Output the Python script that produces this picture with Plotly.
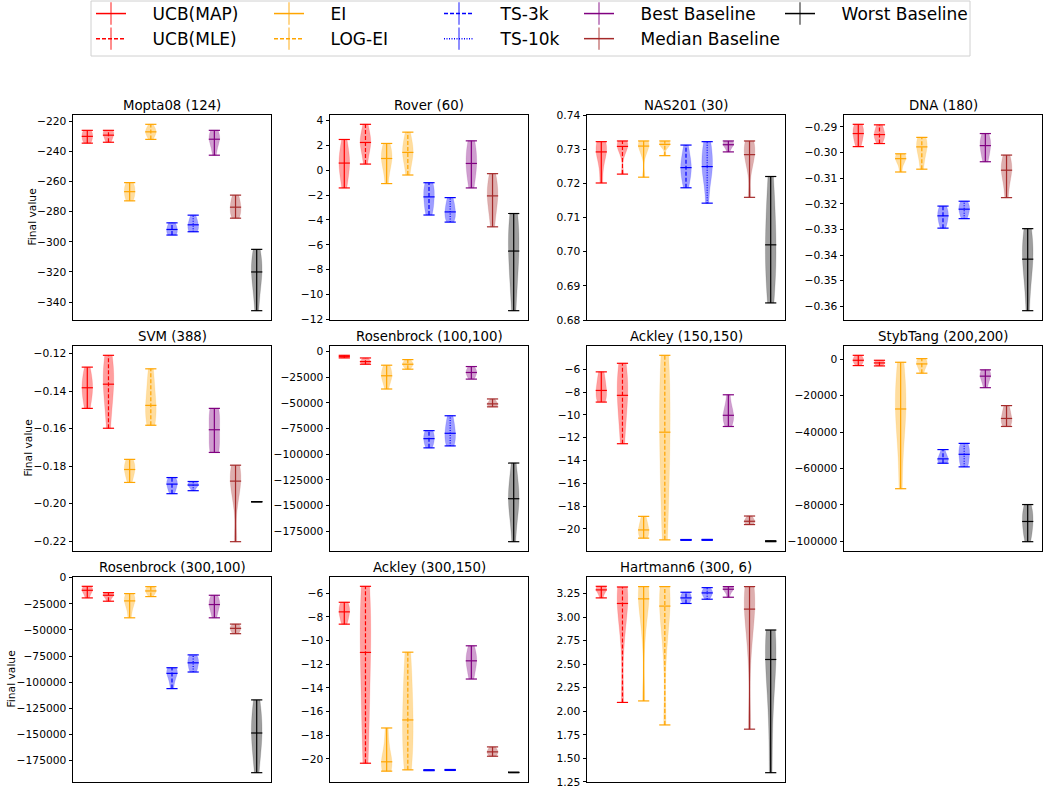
import numpy as np
import plotly.graph_objects as go

W, H = 1053, 792

METHODS = ["UCB(MAP)", "UCB(MLE)", "EI", "LOG-EI", "TS-3k", "TS-10k",
           "Best Baseline", "Median Baseline", "Worst Baseline"]
COLORS = ["#ff0000", "#ff0000", "#ffa500", "#ffa500", "#0000ff", "#0000ff",
          "#800080", "#a52a2a", "#000000"]
DASHES = ["solid", "4px,2px", "solid", "4px,2px", "4px,2px", "1px,1.5px",
          "solid", "solid", "solid"]

TITLES = ["Mopta08 (124)", "Rover (60)", "NAS201 (30)", "DNA (180)",
          "SVM (388)", "Rosenbrock (100,100)", "Ackley (150,150)", "StybTang (200,200)",
          "Rosenbrock (300,100)", "Ackley (300,150)", "Hartmann6 (300, 6)"]
Y_LABEL = "Final value"

MOPTA08 = [
    [-234.5, -233.0, -231.5, -230.0, -228.5, -227.0, -226.0],
    [-233.9, -232.0, -230.0, -229.2, -227.5, -226.5, -226.0],
    [-272.8, -271.0, -268.5, -266.7, -264.5, -262.5, -260.7],
    [-232.0, -229.5, -228.0, -227.0, -226.0, -224.5, -222.0],
    [-295.5, -294.5, -293.5, -291.8, -290.5, -289.0, -287.4],
    [-293.3, -292.5, -291.0, -288.7, -287.5, -285.0, -282.3],
    [-242.5, -237.0, -233.5, -231.9, -230.0, -228.0, -226.0],
    [-284.3, -282.0, -280.0, -277.0, -275.0, -272.0, -269.0],
    [-345.7, -333.0, -325.0, -320.0, -316.0, -311.0, -305.0],
]
ROVER = [
    [-1.42, -0.5, 0.2, 0.58, 1.0, 1.6, 2.48],
    [0.5, 1.4, 2.0, 2.24, 2.5, 3.0, 3.7],
    [-1.07, 0.1, 0.6, 0.95, 1.3, 1.7, 2.16],
    [-0.38, 0.6, 1.2, 1.44, 1.8, 2.3, 3.07],
    [-3.6, -3.1, -2.6, -2.14, -1.7, -1.3, -1.0],
    [-4.17, -3.9, -3.6, -3.35, -3.0, -2.6, -2.2],
    [-1.42, -0.5, 0.2, 0.55, 1.2, 1.8, 2.37],
    [-4.55, -3.3, -2.5, -2.06, -1.6, -1.0, -0.27],
    [-11.3, -9.0, -7.5, -6.5, -5.3, -4.3, -3.48],
]
NAS201 = [
    [0.7201, 0.7255, 0.7285, 0.7292, 0.7305, 0.7318, 0.7322],
    [0.7227, 0.7285, 0.7300, 0.7308, 0.7315, 0.7320, 0.7324],
    [0.7218, 0.7285, 0.7300, 0.7309, 0.7316, 0.7321, 0.7324],
    [0.7281, 0.7305, 0.7310, 0.7314, 0.7318, 0.7322, 0.7324],
    [0.7187, 0.7215, 0.7235, 0.7246, 0.7260, 0.7280, 0.7312],
    [0.7142, 0.7215, 0.7238, 0.7249, 0.7275, 0.7305, 0.7322],
    [0.7292, 0.7305, 0.7310, 0.7313, 0.7318, 0.7322, 0.7324],
    [0.7159, 0.7250, 0.7275, 0.7284, 0.7305, 0.7318, 0.7324],
    [0.6850, 0.6920, 0.6970, 0.7020, 0.7070, 0.7140, 0.7220],
]
DNA = [
    [-0.2977, -0.2955, -0.2940, -0.2926, -0.2912, -0.2900, -0.2890],
    [-0.2965, -0.2948, -0.2938, -0.2930, -0.2922, -0.2905, -0.2892],
    [-0.3076, -0.3045, -0.3032, -0.3024, -0.3018, -0.3010, -0.3005],
    [-0.3065, -0.3020, -0.2995, -0.2978, -0.2965, -0.2950, -0.2941],
    [-0.3295, -0.3275, -0.3260, -0.3247, -0.3235, -0.3222, -0.3209],
    [-0.3258, -0.3245, -0.3230, -0.3221, -0.3212, -0.3200, -0.3190],
    [-0.3036, -0.3010, -0.2990, -0.2973, -0.2958, -0.2945, -0.2926],
    [-0.3176, -0.3120, -0.3085, -0.3069, -0.3055, -0.3035, -0.3010],
    [-0.3617, -0.3500, -0.3440, -0.3416, -0.3370, -0.3330, -0.3297],
]
SVM = [
    [-0.1492, -0.1450, -0.1405, -0.1382, -0.1355, -0.1320, -0.1272],
    [-0.1598, -0.1480, -0.1400, -0.1363, -0.1310, -0.1250, -0.1209],
    [-0.1887, -0.1855, -0.1830, -0.1818, -0.1800, -0.1780, -0.1764],
    [-0.1582, -0.1550, -0.1510, -0.1476, -0.1420, -0.1350, -0.1281],
    [-0.1947, -0.1925, -0.1910, -0.1896, -0.1885, -0.1872, -0.1861],
    [-0.1931, -0.1915, -0.1905, -0.1901, -0.1896, -0.1890, -0.1882],
    [-0.1727, -0.1710, -0.1670, -0.1606, -0.1550, -0.1510, -0.1492],
    [-0.2203, -0.1980, -0.1920, -0.1880, -0.1850, -0.1820, -0.1795],
    [-0.1990, -0.1990, -0.1990, -0.1990, -0.1990, -0.1990, -0.1990],
]
ROSENBROCK_100 = [
    [-6100, -5500, -5100, -4835, -4500, -4000, -3550],
    [-12250, -11200, -10300, -9670, -8800, -7500, -6124],
    [-36400, -29000, -25500, -23500, -20500, -17000, -13200],
    [-17080, -14500, -13200, -12250, -11200, -9800, -7735],
    [-93800, -90500, -87500, -84800, -82000, -79000, -77000],
    [-91900, -88500, -84000, -79600, -75000, -69000, -62500],
    [-26750, -24000, -21800, -20300, -18700, -16800, -14500],
    [-53800, -52700, -51700, -50900, -49800, -48200, -46100],
    [-185300, -162000, -150000, -143400, -137000, -126000, -108600],
]
ACKLEY_150 = [
    [-8.88, -8.6, -8.2, -7.86, -7.4, -6.8, -6.23],
    [-12.53, -10.5, -9.0, -8.29, -7.3, -6.3, -5.48],
    [-20.81, -20.6, -20.3, -20.09, -19.8, -19.4, -18.9],
    [-20.96, -17.0, -14.0, -11.52, -9.0, -6.5, -4.78],
    [-21.0, -20.98, -20.97, -20.96, -20.95, -20.94, -20.93],
    [-21.0, -20.98, -20.97, -20.96, -20.95, -20.94, -20.92],
    [-11.02, -10.6, -10.3, -10.04, -9.7, -9.2, -8.24],
    [-19.62, -19.5, -19.4, -19.33, -19.2, -19.05, -18.87],
    [-21.12, -21.1, -21.09, -21.08, -21.07, -21.06, -21.04],
]
STYBTANG = [
    [-3450, -2200, -1200, -545, 200, 1200, 2180],
    [-3640, -3000, -2400, -2000, -1600, -1100, -545],
    [-71100, -45000, -33000, -27300, -20000, -12000, -1640],
    [-7640, -5000, -3500, -2545, -1500, -500, 360],
    [-57100, -56300, -55500, -54700, -53500, -52000, -49600],
    [-59100, -57500, -54500, -52200, -50000, -48000, -46200],
    [-15600, -12500, -10500, -9270, -8000, -6800, -5800],
    [-36900, -35300, -34000, -32500, -30500, -28000, -25450],
    [-100200, -96000, -92000, -89100, -86000, -83000, -79800],
]
ROSENBROCK_300 = [
    [-19340, -16000, -13500, -12040, -11000, -9500, -8240],
    [-22500, -20000, -17800, -16800, -16000, -15000, -14270],
    [-38400, -30000, -24500, -22200, -20000, -17500, -15200],
    [-18070, -15500, -13800, -12680, -11500, -10000, -8560],
    [-106200, -99000, -94000, -91600, -89500, -88000, -86200],
    [-90300, -88000, -84000, -81500, -79000, -76500, -73900],
    [-38400, -33000, -28000, -25700, -23500, -20500, -16800],
    [-53600, -52000, -50000, -48500, -47500, -46200, -44400],
    [-186700, -168000, -155000, -148700, -140000, -128000, -117000],
]
ACKLEY_300 = [
    [-8.61, -8.2, -7.8, -7.57, -7.3, -7.0, -6.76],
    [-20.37, -17.0, -13.5, -11.0, -8.5, -6.8, -5.41],
    [-21.04, -20.8, -20.5, -20.25, -19.8, -18.8, -17.39],
    [-20.93, -19.5, -18.0, -16.71, -15.0, -13.0, -10.98],
    [-21.0, -20.98, -20.97, -20.96, -20.95, -20.94, -20.92],
    [-20.98, -20.96, -20.95, -20.94, -20.93, -20.92, -20.90],
    [-13.25, -12.6, -12.0, -11.71, -11.4, -11.0, -10.44],
    [-19.78, -19.65, -19.5, -19.41, -19.3, -19.15, -18.99],
    [-21.17, -21.16, -21.155, -21.15, -21.145, -21.14, -21.13],
]
HARTMANN6 = [
    [3.204, 3.250, 3.275, 3.289, 3.305, 3.320, 3.327],
    [2.094, 2.800, 3.050, 3.145, 3.250, 3.310, 3.320],
    [2.110, 2.850, 3.100, 3.194, 3.280, 3.310, 3.324],
    [1.855, 2.700, 3.000, 3.117, 3.220, 3.300, 3.324],
    [3.145, 3.165, 3.190, 3.204, 3.225, 3.245, 3.264],
    [3.190, 3.220, 3.245, 3.257, 3.270, 3.290, 3.313],
    [3.211, 3.260, 3.285, 3.296, 3.310, 3.320, 3.324],
    [1.810, 2.700, 3.000, 3.085, 3.200, 3.290, 3.324],
    [1.348, 2.000, 2.400, 2.550, 2.700, 2.800, 2.863],
]

TICKS_MOPTA08 = [-340, -320, -300, -280, -260, -240, -220]
TICKS_ROVER = [-12, -10, -8, -6, -4, -2, 0, 2, 4]
TICKS_NAS201 = [0.68, 0.69, 0.70, 0.71, 0.72, 0.73, 0.74]
TICKS_DNA = [-0.36, -0.35, -0.34, -0.33, -0.32, -0.31, -0.30, -0.29]
TICKS_SVM = [-0.22, -0.20, -0.18, -0.16, -0.14, -0.12]
TICKS_ROSEN = [-175000, -150000, -125000, -100000, -75000, -50000, -25000, 0]
TICKS_ACKLEY = [-20, -18, -16, -14, -12, -10, -8, -6]
TICKS_STYB = [-100000, -80000, -60000, -40000, -20000, 0]
TICKS_HART = [1.25, 1.50, 1.75, 2.00, 2.25, 2.50, 2.75, 3.00, 3.25]

PANELS = [
    (MOPTA08, TICKS_MOPTA08, "d", None),
    (ROVER, TICKS_ROVER, "d", None),
    (NAS201, TICKS_NAS201, ".2f", [0.68, 0.74]),
    (DNA, TICKS_DNA, ".2f", None),
    (SVM, TICKS_SVM, ".2f", None),
    (ROSENBROCK_100, TICKS_ROSEN, "d", None),
    (ACKLEY_150, TICKS_ACKLEY, "d", None),
    (STYBTANG, TICKS_STYB, "d", None),
    (ROSENBROCK_300, TICKS_ROSEN, "d", None),
    (ACKLEY_300, TICKS_ACKLEY, "d", None),
    (HARTMANN6, TICKS_HART, ".2f", None),
]

LEGEND_COLUMNS = [[0, 1], [2, 3], [4, 5], [6, 7], [8]]
LEGEND_X_PX = [91, 269, 439, 579, 780]

COL_LEFT = [73, 330, 587, 844]
PANEL_W = 198
ROW_TOP = [115, 346, 577]
PANEL_H = 205
YLABEL_X_PX = [32, 28, 11]
FONT = "DejaVu Sans"
GAP = "\u00a0" * 4


def rgba(hex_color, a):
    h = hex_color.lstrip("#")
    r, g, b = int(h[0:2], 16), int(h[2:4], 16), int(h[4:6], 16)
    return f"rgba({r},{g},{b},{a})"


fig = go.Figure()
layout = dict(
    width=W, height=H, margin=dict(l=0, r=0, t=0, b=0, autoexpand=False),
    paper_bgcolor="white", plot_bgcolor="white",
    font=dict(family=FONT, color="black", size=11),
    violinmode="overlay", showlegend=True,
)
annotations = []

for k, (data, ticks, fmt, ylim) in enumerate(PANELS):
    r, c = divmod(k, 4)
    n = k + 1
    xn = "x" if n == 1 else f"x{n}"
    yn = "y" if n == 1 else f"y{n}"
    left = COL_LEFT[c]
    top = ROW_TOP[r]
    if ylim is None:
        allv = np.concatenate([np.asarray(v, float) for v in data])
        lo, hi = allv.min(), allv.max()
        m = 0.05 * (hi - lo)
        ylim = [lo - m, hi + m]
    layout[f"xaxis{n}"] = dict(
        domain=[left / W, (left + PANEL_W) / W], range=[0.325, 9.675],
        anchor=yn, showticklabels=False, ticks="", showgrid=False, zeroline=False,
        showline=True, mirror=True, linecolor="black", linewidth=1,
    )
    layout[f"yaxis{n}"] = dict(
        domain=[1 - (top + PANEL_H) / H, 1 - top / H], range=ylim, anchor=xn,
        tickvals=ticks, tickformat=fmt, ticks="outside", ticklen=3.5, tickwidth=0.8,
        tickcolor="black", tickfont=dict(family=FONT, size=10.7, color="black"),
        showgrid=False, zeroline=False, showline=True, mirror=True,
        linecolor="black", linewidth=1, exponentformat="none",
    )
    if c == 0:
        annotations.append(dict(
            text=Y_LABEL, x=YLABEL_X_PX[r] / W, y=1 - (top + PANEL_H / 2) / H,
            xref="paper", yref="paper", xanchor="center", yanchor="middle",
            textangle=-90, showarrow=False,
            font=dict(family=FONT, size=10.7, color="black"),
        ))
    annotations.append(dict(
        text=TITLES[k], x=(left + PANEL_W / 2) / W, y=1 - top / H,
        xref="paper", yref="paper", xanchor="center", yanchor="bottom",
        showarrow=False, yshift=0, font=dict(family=FONT, size=13.3, color="black"),
    ))

    for j, vals in enumerate(data):
        vals = np.asarray(vals, float)
        pos = j + 1
        col = COLORS[j]
        if vals.max() > vals.min():
            fig.add_trace(go.Violin(
                x=[pos] * len(vals), y=vals, xaxis=xn, yaxis=yn,
                width=0.5, scalemode="width", spanmode="hard", points=False,
                fillcolor=rgba(col, 0.38), line=dict(width=0.5, color=rgba(col, 0.25)),
                box_visible=False, meanline_visible=False, showlegend=False,
                hoverinfo="skip",
            ))
        fig.add_trace(go.Scatter(
            x=[pos, pos, pos], y=[vals.min(), float(np.median(vals)), vals.max()],
            xaxis=xn, yaxis=yn, mode="lines+markers",
            line=dict(color=col, width=1.2, dash=DASHES[j]),
            marker=dict(symbol="line-ew", size=8, color=col,
                        line=dict(width=1.2, color=col)),
            showlegend=False, hoverinfo="skip",
        ))

# legends: five column groups
for g, members in enumerate(LEGEND_COLUMNS):
    lname = "legend" if g == 0 else f"legend{g + 1}"
    for j in members:
        fig.add_trace(go.Scatter(
            x=[None], y=[None], mode="lines+markers", name=GAP + METHODS[j],
            line=dict(color=COLORS[j], width=1.5, dash=DASHES[j]),
            marker=dict(symbol="line-ns", size=16, color=COLORS[j],
                        line=dict(width=1.5, color=rgba(COLORS[j], 0.6))),
            legend=lname, showlegend=True,
        ))
    layout[lname] = dict(
        x=LEGEND_X_PX[g] / W, y=1 + 4 / H, xanchor="left", yanchor="top",
        orientation="v", bgcolor="rgba(0,0,0,0)", borderwidth=0,
        font=dict(family=FONT, size=17, color="black"), tracegroupgap=0,
        itemwidth=30,
    )

layout["shapes"] = [dict(
    type="rect", xref="paper", yref="paper",
    x0=91 / W, x1=970 / W, y0=1 - 56 / H, y1=1 - 1 / H,
    line=dict(color="#d0d0d0", width=1), fillcolor="rgba(0,0,0,0)", layer="below",
)]
layout["annotations"] = annotations
fig.update_layout(**layout)
fig.write_html(
    "out.html",
    config={"displayModeBar": False},
    post_script="document.body.style.margin='0';document.body.style.padding='0';",
)
